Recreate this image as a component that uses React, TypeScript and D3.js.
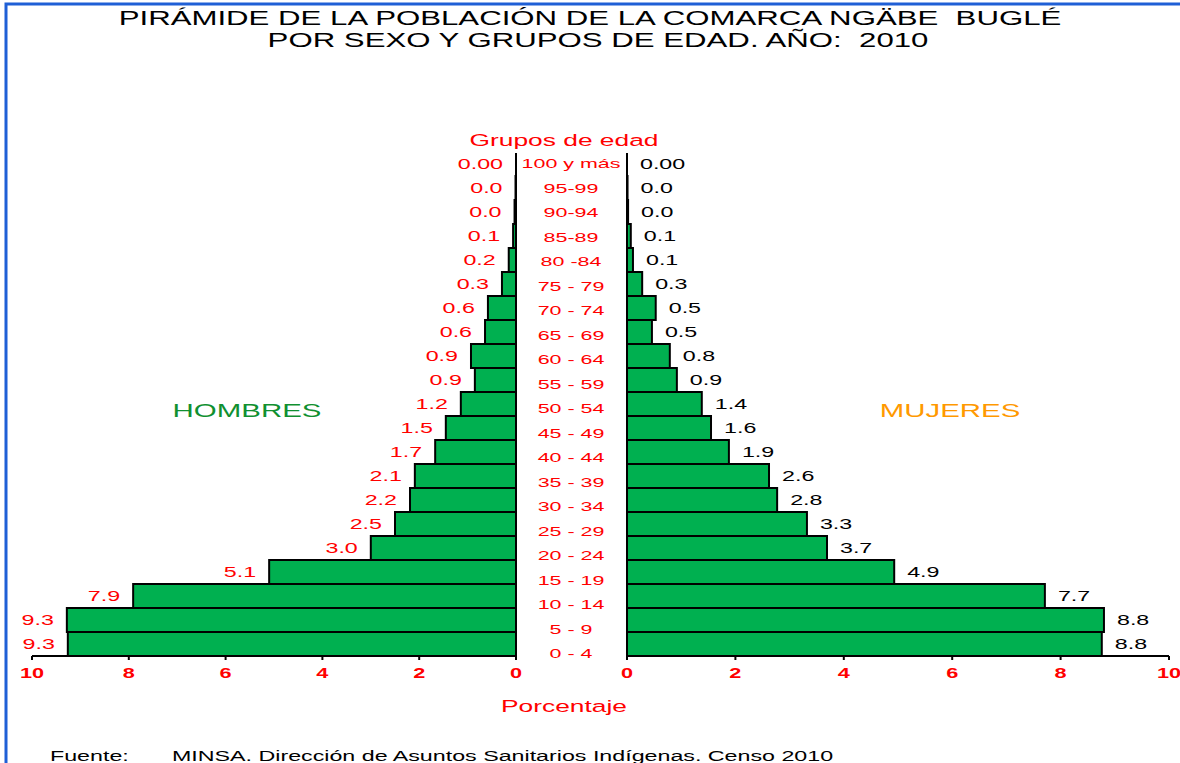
import React from "react";
import * as d3 from "d3";

// age groups, top to bottom as drawn
const ageGroups = [
  "100 y más", "95-99", "90-94", "85-89", "80 -84", "75 - 79", "70 - 74",
  "65 - 69", "60 - 64", "55 - 59", "50 - 54", "45 - 49", "40 - 44", "35 - 39",
  "30 - 34", "25 - 29", "20 - 24", "15 - 19", "10 - 14", "5 - 9", "0 - 4",
];

// percentages
const hombres = [
  0.0, 0.01, 0.03, 0.06, 0.15, 0.29, 0.58, 0.64, 0.93, 0.85, 1.14, 1.45, 1.67,
  2.09, 2.19, 2.5, 3.0, 5.1, 7.91, 9.28, 9.26,
];
const mujeres = [
  0.0, 0.01, 0.02, 0.07, 0.11, 0.28, 0.53, 0.46, 0.79, 0.92, 1.38, 1.55, 1.88,
  2.62, 2.77, 3.32, 3.69, 4.93, 7.71, 8.8, 8.76,
];

// printed labels (as in the source)
const hombresLabels = [
  "0.00", "0.0", "0.0", "0.1", "0.2", "0.3", "0.6", "0.6", "0.9", "0.9", "1.2",
  "1.5", "1.7", "2.1", "2.2", "2.5", "3.0", "5.1", "7.9", "9.3", "9.3",
];
const mujeresLabels = [
  "0.00", "0.0", "0.0", "0.1", "0.1", "0.3", "0.5", "0.5", "0.8", "0.9", "1.4",
  "1.6", "1.9", "2.6", "2.8", "3.3", "3.7", "4.9", "7.7", "8.8", "8.8",
];

const xTicks = [0, 2, 4, 6, 8, 10];

const width = 1180, height = 763;
const top = 152, bottom = 656;
const font = "Arial, 'Liberation Sans', sans-serif";
const green = "#00b050";
const SX = 1.55; // the source text is stretched sideways

// stretched text
const T = ({ x, y, sx = SX, anchor = "start", size, fill = "#000", weight = "normal", children }: any) => (
  <text transform={`translate(${x},${y}) scale(${sx},1)`} textAnchor={anchor}
    fontSize={size} fill={fill} fontWeight={weight} style={{ whiteSpace: "pre" }}>
    {children}
  </text>
);

const App = () => {
  const xl = d3.scaleLinear().domain([0, 10]).range([516, 32]);
  const xr = d3.scaleLinear().domain([0, 10]).range([627, 1169]);

  const y = d3.scaleBand().domain(ageGroups).range([top, bottom]).padding(0);
  // age labels in the middle column sit on a slightly wider spacing
  const yAge = d3.scalePoint().domain(ageGroups).range([164, 654]);

  const bw = y.bandwidth();

  return (
    <svg
      width={width}
      height={height}
      style={{ position: "absolute", left: 0, top: 0, background: "#fff" }}
      fontFamily={font}
    >
      {/* blue frame */}
      <rect x={6} y={4} width={width + 10} height={height + 10} fill="none" stroke="#1f5fd6" strokeWidth={3} />

      <T x={590} y={25} anchor="middle" size={19.5} sx={1.6}>PIRÁMIDE DE LA POBLACIÓN DE LA COMARCA NGÄBE  BUGLÉ</T>
      <T x={598} y={47} anchor="middle" size={19.5} sx={1.6}>POR SEXO Y GRUPOS DE EDAD. AÑO:  2010</T>

      <T x={564} y={146} anchor="middle" size={17} fill="#ff0000">Grupos de edad</T>

      {/* hombres */}
      {hombres.map((v, i) => (
        <rect key={"h" + i}
          x={xl(v)} y={y(ageGroups[i])} width={xl(0) - xl(v)} height={bw}
          fill={green} stroke="#000" strokeWidth={2} />
      ))}
      {hombres.map((v, i) => (
        <T key={"hl" + i} x={xl(v) - 13} y={y(ageGroups[i])! + bw / 2 + 5}
          anchor="end" size={15} fill="#ff0000">{hombresLabels[i]}</T>
      ))}

      {/* mujeres */}
      {mujeres.map((v, i) => (
        <rect key={"m" + i}
          x={xr(0)} y={y(ageGroups[i])} width={xr(v) - xr(0)} height={bw}
          fill={green} stroke="#000" strokeWidth={2} />
      ))}
      {mujeres.map((v, i) => (
        <T key={"ml" + i} x={xr(v) + 13} y={y(ageGroups[i])! + bw / 2 + 5}
          size={15} fill="#000">{mujeresLabels[i]}</T>
      ))}

      {/* center column labels */}
      {ageGroups.map(a => (
        <T key={a} x={571} y={yAge(a)! + 4} anchor="middle" size={13} sx={1.65} fill="#ff0000">{a}</T>
      ))}

      {/* vertical axis lines */}
      <line x1={xl(0)} x2={xl(0)} y1={153} y2={bottom} stroke="#000" strokeWidth={2} />
      <line x1={xr(0)} x2={xr(0)} y1={153} y2={bottom} stroke="#000" strokeWidth={2} />

      {/* horizontal axes */}
      <line x1={xl(10)} x2={xl(0)} y1={bottom} y2={bottom} stroke="#000" strokeWidth={2} />
      <line x1={xr(0)} x2={xr(10)} y1={bottom} y2={bottom} stroke="#000" strokeWidth={2} />
      {xTicks.map(t => (
        <g key={"tl" + t}>
          <line x1={xl(t)} x2={xl(t)} y1={bottom} y2={bottom + 4} stroke="#000" strokeWidth={2} />
          <T x={xl(t)} y={678} anchor="middle" size={14} weight="bold" fill="#ff0000">{t}</T>
        </g>
      ))}
      {xTicks.map(t => (
        <g key={"tr" + t}>
          <line x1={xr(t)} x2={xr(t)} y1={bottom} y2={bottom + 4} stroke="#000" strokeWidth={2} />
          <T x={xr(t)} y={678} anchor="middle" size={14} weight="bold" fill="#ff0000">{t}</T>
        </g>
      ))}

      <T x={564} y={712} anchor="middle" size={17} fill="#ff0000">Porcentaje</T>

      <T x={247} y={417} anchor="middle" size={19} fill="#109030">HOMBRES</T>
      <T x={950} y={417} anchor="middle" size={19} fill="#ff9900">MUJERES</T>

      <T x={50} y={761} size={15}>Fuente:</T>
      <T x={172} y={761} size={15}>MINSA. Dirección de Asuntos Sanitarios Indígenas. Censo 2010</T>
    </svg>
  );
};

export default App;
